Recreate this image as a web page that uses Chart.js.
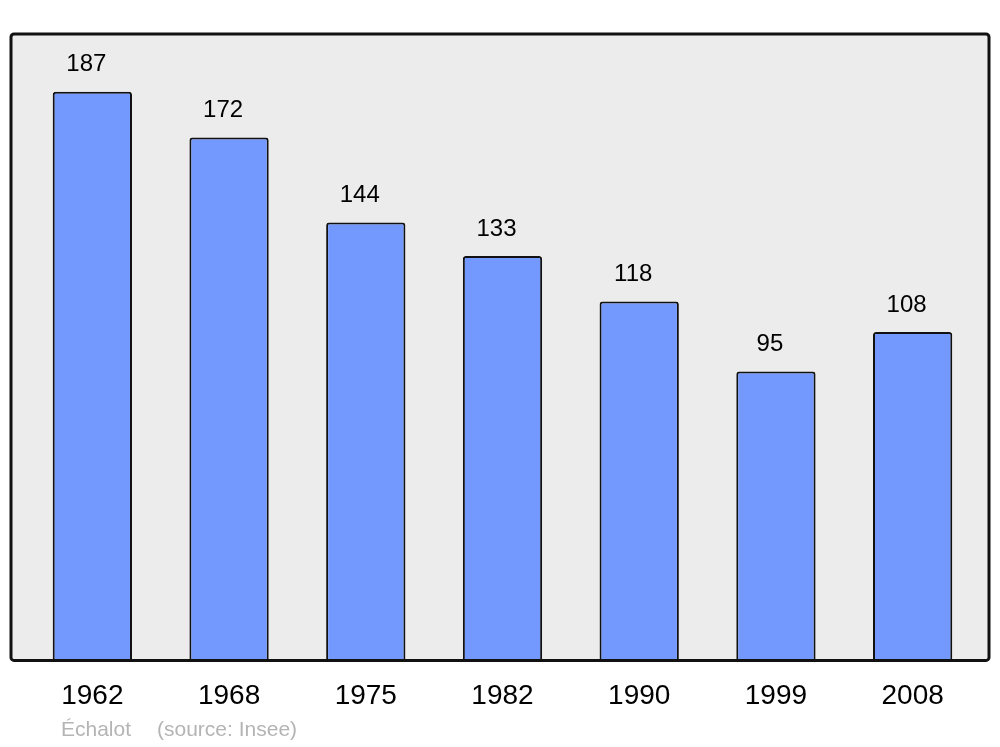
<!DOCTYPE html>
<html>
<head>
<meta charset="utf-8">
<script src="https://cdn.jsdelivr.net/npm/chart.js@4/dist/chart.umd.min.js"></script>
<style>
  html, body { margin: 0; padding: 0; background: #fff; }
  #chartDiv { width: 1000px; height: 747px; }
</style>
</head>
<body>
<div id="chartDiv"><canvas id="myChart" width="1000" height="747"></canvas></div>
<script>
const years = ['1962', '1968', '1975', '1982', '1990', '1999', '2008'];
const population = [187, 172, 144, 133, 118, 95, 108];
const yMax = 206;
const footerName = 'Échalot';
const footerSource = '(source: Insee)';

Chart.defaults.font.family = '"Liberation Sans", Arial, sans-serif';

// grey frame behind the bars, border on top
const frame = {
    id: 'frame',
    beforeDatasetsDraw(chart) {
        const a = chart.chartArea, ctx = chart.ctx;
        ctx.save();
        ctx.fillStyle = '#ececec';
        ctx.beginPath();
        ctx.roundRect(a.left - 13, a.top, a.right - a.left + 21, a.bottom - a.top, 3);
        ctx.fill();
        ctx.restore();
    },
    afterDatasetsDraw(chart) {
        const a = chart.chartArea, ctx = chart.ctx;
        ctx.save();
        ctx.strokeStyle = '#111';
        ctx.lineWidth = 3;
        ctx.beginPath();
        ctx.roundRect(a.left - 13, a.top, a.right - a.left + 21, a.bottom - a.top, 3);
        ctx.stroke();

        // value labels
        ctx.fillStyle = '#000';
        ctx.font = '24px "Liberation Sans", Arial, sans-serif';
        ctx.textAlign = 'center';
        ctx.textBaseline = 'middle';
        chart.getDatasetMeta(0).data.forEach((bar, i) => {
            ctx.fillText(population[i], bar.x - 6, bar.y - 27);
        });

        // footer
        ctx.fillStyle = '#b4b4b4';
        ctx.font = '21px "Liberation Sans", Arial, sans-serif';
        ctx.textAlign = 'left';
        ctx.fillText(footerName, a.left + 37, 730);
        ctx.fillText(footerSource, a.left + 133, 730);
        ctx.restore();
    }
};

const config = {
    type: 'bar',
    data: {
        labels: years,
        datasets: [{
            data: population,
            backgroundColor: '#7399ff',
            borderColor: '#111',
            borderWidth: 2,
            borderRadius: { topLeft: 3, topRight: 3 },
            borderSkipped: 'bottom',
            categoryPercentage: 1,
            barPercentage: 0.58
        }]
    },
    options: {
        responsive: false,
        animation: false,
        layout: { padding: { left: 24, right: 19, top: 34, bottom: 15 } },
        plugins: {
            legend: { display: false },
            tooltip: { enabled: false }
        },
        scales: {
            x: {
                grid: { display: false, drawTicks: false },
                border: { display: false },
                ticks: {
                    color: '#000',
                    font: { size: 28 },
                    padding: 19
                }
            },
            y: {
                display: false,
                min: 0,
                max: yMax
            }
        }
    },
    plugins: [frame]
};

const myChart = new Chart(document.getElementById('myChart'), config);
</script>
</body>
</html>
